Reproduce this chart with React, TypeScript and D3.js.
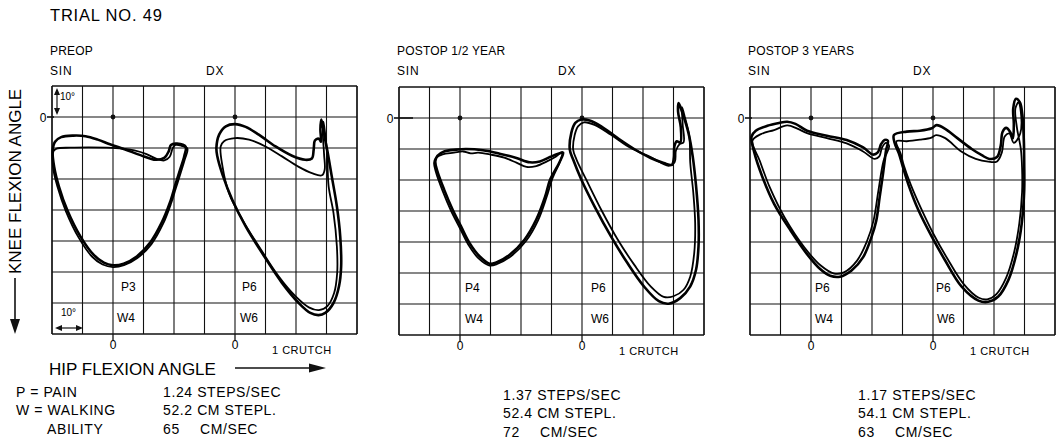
import React from 'react';
import * as d3 from 'd3';

// ---------- data (degrees: [hip flexion, knee flexion]) ----------
const panelTitles = ['PREOP', 'POSTOP 1/2 YEAR', 'POSTOP 3 YEARS'];
const painSin = ['P3', 'P4', 'P6'];
const painDx = ['P6', 'P6', 'P6'];
const walkSin = ['W4', 'W4', 'W4'];
const walkDx = ['W6', 'W6', 'W6'];
const stepsPerSec = ['1.24', '1.37', '1.17'];
const stepLength = ['52.2', '52.4', '54.1'];
const speed = ['65', '72', '63'];
const hipTicks = [-20, -10, 0, 10, 20, 30, 40, 50, 60, 70, 80];
const kneeTicks = [-10, 0, 10, 20, 30, 40, 50, 60, 70];

const p1SinA = [[-19.8,11],[-19,8],[-17,6.5],[-13,6],[-9,6.2],[-5,7.3],[-1,8.8],[4,10.5],[9,12.3],[14,13.8],[16.8,13.2],[18.3,11],[19,9],[21,8.6],[23.8,9.6],[23.4,12.5],[22,17],[20.4,22],[18.7,27.5],[16,34],[12.2,40.5],[7.8,45],[3.5,47.3],[0,47.8],[-3,47],[-6.3,44.5],[-10.7,38.5],[-15,30],[-17.7,22.5],[-19.3,16]];
const p1SinB = [[-19.5,11],[-18.5,10.2],[-14,9.9],[-8,9.8],[-2,9.9],[3,10.2],[7,10.8],[11,12],[14.5,13.6],[16.8,14],[18.6,12.8],[19.6,10],[20.5,9],[22.5,9.3],[24.4,10.2],[23.6,13.5],[22.2,18],[20.6,23],[19,28],[16.4,34.5],[12.6,41],[8,45.5],[3.6,47.8],[0,48.4],[-3.4,47.6],[-6.9,45],[-11.2,39],[-15.4,30.5],[-18.2,22.5],[-19.7,16]];
const p1DxA = [[-6.1,10],[-5.2,5.7],[-3,3],[0,2.3],[3.5,3.2],[7.8,5.7],[13.3,9.5],[18.7,12.5],[23,13.8],[25.2,13.4],[25.8,10.5],[26.2,7.6],[27.5,7],[28.2,8],[28,4],[28.3,0.8],[28.9,3.5],[29.6,7.5],[30.3,11],[31.7,19],[33.4,28.8],[34.5,38.5],[34.8,48.2],[34.1,54.6],[32.3,60],[29.6,63.2],[27.4,63.9],[24.7,63.2],[20.9,60],[15.4,53.5],[8.9,43.9],[3.5,35.3],[-0.9,26.7],[-4.1,18.6],[-5.8,12.7]];
const p1DxB = [[-4.7,9.5],[-3.6,7.8],[0,6.8],[4.6,7.3],[10,9.5],[15.4,12.7],[20.9,16.1],[25.2,18.1],[28.5,18.8],[29.4,17],[29.2,12],[28.8,5],[29,1.5],[29.5,5],[30.2,12],[30.7,22.4],[32.3,31],[33.4,41.7],[33.5,50.3],[32.5,56.8],[30.3,61],[27.5,62.3],[24.2,61.4],[19.8,57.8],[14.3,51.4],[7.8,41.7],[2.4,33.1],[-2,24.5],[-4.1,15.9]];

const p2SinA = [[-8.1,14],[-7.4,12.2],[-5.2,10.8],[-1.3,10.2],[2,10],[7.5,10.4],[13,11.5],[18.5,12.9],[22.9,14.3],[26.2,14],[29.5,12.6],[32,11.6],[33.8,11.2],[32.5,14.5],[29.5,20],[27.9,25.4],[25,32.8],[21.2,39.2],[16.3,44.1],[11.9,46.6],[9.7,47],[6.4,44.6],[3.1,40.3],[0.3,34.9],[-2.4,29.6],[-5.2,23.1],[-7.4,17.2]];
const p2SinB = [[-8.5,14.5],[-7.8,12.8],[-5.7,11.7],[-2,11.2],[1,10.8],[3.5,11.4],[6,11.2],[10,11.8],[14.5,12.8],[18.5,14.4],[21.8,15.8],[25,15.5],[28.5,14],[31.5,12.4],[33.5,11],[32.9,13.8],[30.3,19.5],[28.4,25.5],[25.6,33],[21.7,39.6],[16.7,44.6],[12.2,47.1],[9.7,47.6],[6,45.2],[2.7,40.8],[-0.1,35.4],[-2.9,30],[-5.7,23.5],[-7.9,17.4]];
const p2DxA = [[-4,10.2],[-3.5,4.8],[-2.2,1.6],[-0.2,0.5],[2.5,0.8],[6.3,2.7],[11.7,6.5],[17.1,10],[22.5,12.9],[26.8,14.5],[29.5,15.1],[30.1,12.9],[30.3,9.1],[31.1,7.5],[32.2,8],[32.4,3],[31.5,-2],[31.7,-4.8],[32.8,-2],[34.9,4.8],[36.3,12.4],[37.4,22],[38.2,32.8],[38.2,41.4],[37.4,48.9],[35.5,54.3],[32.2,58.1],[28.4,59.9],[25.2,59.1],[20.3,54.3],[14.9,46.8],[9.5,38.2],[4.1,28.5],[-0.2,19.9],[-2.9,13.4]];
const p2DxB = [[-2.9,10.2],[-2.4,5.5],[-1.3,2.7],[0.6,1.4],[4.1,2.2],[9.5,5.4],[16,9.7],[22.5,12.6],[28.4,15.4],[30.4,14.2],[30.8,10.5],[32,8.4],[33.3,7.8],[33,2],[32.8,-3.5],[33.8,0],[35.2,6],[35.5,14.5],[36.5,24.2],[37.1,33.9],[36.8,43.5],[35.5,51.1],[33.3,55.4],[30,57.5],[26.8,57.7],[22.5,54.3],[17.1,47.3],[11.7,39.2],[6.3,29.6],[1.4,19.9],[-1.8,13.4]];

const p3SinA = [[-19.5,6],[-18.1,4.1],[-14.3,2.5],[-10.5,1.6],[-7.8,1.2],[-5.1,1.9],[-1.3,4.1],[5.2,5.7],[11.7,7.1],[17.1,9.5],[20.3,11.8],[21.9,11.1],[23,8.4],[24.1,7.1],[25.2,7.3],[24.6,10.5],[23.6,18.1],[22.5,25.6],[21.4,33.1],[19.8,38.5],[17.1,44.9],[13.3,49.2],[9.5,51.2],[6.3,50.9],[3,48.7],[-1.3,43.9],[-6.7,36.3],[-12.1,27.7],[-15.9,19.1],[-18.6,11.1]];
const p3SinB = [[-19.2,7.3],[-16.4,5.2],[-12.1,3.9],[-7.8,2.4],[-4.5,3.4],[-1.3,4.9],[5.2,6.5],[11.7,8.2],[17.1,10.8],[20.9,13.2],[22.4,12.4],[23.3,9.5],[24.6,8],[25.6,9],[23.8,13.8],[22.1,23.4],[20.5,33.1],[18.4,39.6],[15.1,46],[10.8,49.8],[7.6,50.2],[3.2,47.6],[-2.2,41.7],[-8.7,32],[-13.5,22.4],[-16.8,13.8]];
const p3DxA = [[-12.8,5.5],[-8.6,4.4],[-4.3,4.1],[-0.4,3.3],[1.2,2.3],[4,3.5],[8,6.5],[12.7,10],[16,12],[18.5,13.2],[21,12.6],[22.2,9],[22.8,4.5],[24,3.2],[25.3,4.5],[26.2,6.5],[26.5,2],[26.3,-3],[27.2,-6.2],[28.5,-5],[29.3,-1],[29.6,3],[29.8,8],[29.9,14.6],[29.9,23.2],[29.1,34],[27.4,43.6],[24.7,52.3],[21.4,57.6],[18.1,59.3],[14.9,58.9],[9.4,54.4],[3.9,45.8],[-0.4,38.3],[-4.8,29.7],[-7.8,22.2],[-9.9,15.7],[-11.2,11.4],[-12.6,8]];
const p3DxB = [[-12,7.5],[-8.6,7.5],[-4.3,7],[-0.5,6.3],[1,5.5],[4,6.5],[9.4,10.9],[14,13.2],[18.1,14.1],[21,14],[22.6,11],[23.5,6],[25,5],[26.5,8],[28.6,5],[28.8,-2],[28,-5],[27,-3],[27.5,3],[28.8,10],[29.2,16],[29.2,24],[28.3,34],[26.6,43.3],[24,51.5],[20.8,56.8],[17.8,58.5],[15,58],[10,53.5],[4.5,45],[0.2,37.5],[-4,29],[-7.3,21.5],[-9.5,15.5],[-10.6,11.5]];

const sinLoops = [[p1SinA, p1SinB], [p2SinA, p2SinB], [p3SinA, p3SinB]];
const dxLoops = [[p1DxA, p1DxB], [p2DxA, p2DxB], [p3DxA, p3DxB]];

// ---------- layout ----------
const LEFTS = [52, 399, 750];
const TOPS = [86, 87, 87];
const GRID_W = 305;
const GRID_H = 248;
const DX_LABEL_X = [206, 558, 913];
const STAT_X = [163, 503, 858];
const STAT_Y = [[397, 415, 434], [399.5, 417.5, 436.5], [400, 418, 437]];
const P_OFF = [[8, 7], [5, 9], [4, 3]];
const W_OFF = [[4, 5], [5, 9], [4, 4]];
const LOOP_W = [2.6, 1.8];
const FONT = '"Liberation Sans", Arial, Helvetica, sans-serif';
const INK = '#000';

function Panel({ i }: { i: number }) {
  const left = LEFTS[i];
  const top = TOPS[i];
  const xSin = d3.scaleLinear().domain([-20, 80]).range([left, left + GRID_W]);
  const xDx = d3.scaleLinear().domain([-60, 40]).range([left, left + GRID_W]);
  const y = d3.scaleLinear().domain([-10, 70]).range([top, top + GRID_H]);
  const bottom = top + GRID_H;
  const mk = (xs: d3.ScaleLinear<number, number>) =>
    d3.line<number[]>().x(d => xs(d[0])).y(d => y(d[1])).curve(d3.curveCatmullRomClosed.alpha(0.5));
  const lineSin = mk(xSin);
  const lineDx = mk(xDx);
  const zs = xSin(0);
  const zd = xDx(0);
  const T = (p: any) => <text fill={INK} fontFamily={FONT} {...p} />;
  return (
    <g>
      {hipTicks.map((t, k) => (
        <line key={'v' + k} x1={xSin(t)} x2={xSin(t)} y1={top} y2={bottom}
          stroke="#111" strokeWidth={k === 0 || k === hipTicks.length - 1 ? 1.7 : 1.1} />
      ))}
      {kneeTicks.map((t, k) => (
        <line key={'h' + k} x1={left} x2={left + GRID_W} y1={y(t)} y2={y(t)}
          stroke="#111" strokeWidth={k === 0 || k === kneeTicks.length - 1 ? 1.7 : 1.1} />
      ))}
      <line x1={left - 5} x2={left + (i === 1 ? 14 : 2)} y1={y(0)} y2={y(0)} stroke="#111" strokeWidth={1.6} />
      {T({ x: left - 9, y: y(0) + 4.5, fontSize: 12, textAnchor: 'middle', children: '0' })}
      <line x1={zs} x2={zs} y1={bottom} y2={bottom + 6} stroke="#111" strokeWidth={1.3} />
      <line x1={zd} x2={zd} y1={bottom} y2={bottom + 6} stroke="#111" strokeWidth={1.3} />
      <circle cx={zs} cy={y(0)} r={2.4} fill="#111" />
      <circle cx={zd} cy={y(0)} r={2.4} fill="#111" />
      {T({ x: zs, y: bottom + 15, fontSize: 12, textAnchor: 'middle', children: '0' })}
      {T({ x: zd, y: bottom + 15, fontSize: 12, textAnchor: 'middle', children: '0' })}
      {T({ x: zd + 37, y: bottom + 20, fontSize: 11, letterSpacing: 0.5, children: '1 CRUTCH' })}
      {T({ x: left - 2, y: 55, fontSize: 12, letterSpacing: 0.2, children: panelTitles[i] })}
      {T({ x: left - 2, y: 74.5, fontSize: 12, letterSpacing: 0.8, children: 'SIN' })}
      {T({ x: DX_LABEL_X[i], y: 74.5, fontSize: 12, letterSpacing: 0.8, children: 'DX' })}
      {T({ x: zs + P_OFF[i][0], y: top + 205, fontSize: 12, children: painSin[i] })}
      {T({ x: zd + P_OFF[i][1], y: top + 205, fontSize: 12, children: painDx[i] })}
      {T({ x: zs + W_OFF[i][0], y: top + 236, fontSize: 12, children: walkSin[i] })}
      {T({ x: zd + W_OFF[i][1], y: top + 236, fontSize: 12, children: walkDx[i] })}
      {sinLoops[i].map((c, k) => (
        <path key={'s' + k} d={lineSin(c) || ''} fill="none" stroke={INK} strokeWidth={LOOP_W[k]} strokeLinejoin="round" />
      ))}
      {dxLoops[i].map((c, k) => (
        <path key={'d' + k} d={lineDx(c) || ''} fill="none" stroke={INK} strokeWidth={LOOP_W[k]} strokeLinejoin="round" />
      ))}
      {T({ x: STAT_X[i], y: STAT_Y[i][0], fontSize: 14, letterSpacing: 0.6, children: stepsPerSec[i] + ' STEPS/SEC' })}
      {T({ x: STAT_X[i], y: STAT_Y[i][1], fontSize: 14, letterSpacing: 0.6, children: stepLength[i] + ' CM STEPL.' })}
      {T({ x: STAT_X[i], y: STAT_Y[i][2], fontSize: 14, letterSpacing: 0.6, children: speed[i] })}
      {T({ x: STAT_X[i] + 37, y: STAT_Y[i][2], fontSize: 14, letterSpacing: 0.6, children: 'CM/SEC' })}
    </g>
  );
}

export default function App() {
  return (
    <svg width={1062} height={442} style={{ position: 'absolute', left: 0, top: 0, display: 'block', background: '#fff' }}>
      <rect x={0} y={0} width={1062} height={442} fill="#fff" />
      <text x={50} y={21} fontSize={16.5} letterSpacing={0.8} fill={INK} fontFamily={FONT}>TRIAL NO. 49</text>
      {[0, 1, 2].map(i => <Panel key={i} i={i} />)}
      <line x1={57} x2={57} y1={90} y2={113} stroke="#111" strokeWidth={1.2} />
      <path d="M57,88 L54,95 L60,95 Z M57,115 L54,108 L60,108 Z" fill="#111" />
      <text x={60} y={100} fontSize={10} fill={INK} fontFamily={FONT}>10°</text>
      <text x={61} y={316} fontSize={10} fill={INK} fontFamily={FONT}>10°</text>
      <line x1={58} x2={80} y1={328} y2={328} stroke="#111" strokeWidth={1.2} />
      <path d="M55,328 L62,325 L62,331 Z M83,328 L76,325 L76,331 Z" fill="#111" />
      <text transform="translate(21,274) rotate(-90)" fontSize={17} fill={INK} fontFamily={FONT}>KNEE FLEXION ANGLE</text>
      <line x1={15} x2={15} y1={278} y2={322} stroke="#111" strokeWidth={1.6} />
      <path d="M10,319 L20,319 L15,334 Z" fill="#111" />
      <text x={49} y={375} fontSize={17} fill={INK} fontFamily={FONT}>HIP FLEXION ANGLE</text>
      <line x1={235} x2={312} y1={368} y2={368} stroke="#111" strokeWidth={1.6} />
      <path d="M309,363.5 L309,372.5 L326,368 Z" fill="#111" />
      <text x={16} y={397} fontSize={14} letterSpacing={0.6} fill={INK} fontFamily={FONT}>P = PAIN</text>
      <text x={16} y={415} fontSize={14} letterSpacing={0.6} fill={INK} fontFamily={FONT}>W = WALKING</text>
      <text x={47} y={434} fontSize={14} letterSpacing={0.6} fill={INK} fontFamily={FONT}>ABILITY</text>
    </svg>
  );
}
